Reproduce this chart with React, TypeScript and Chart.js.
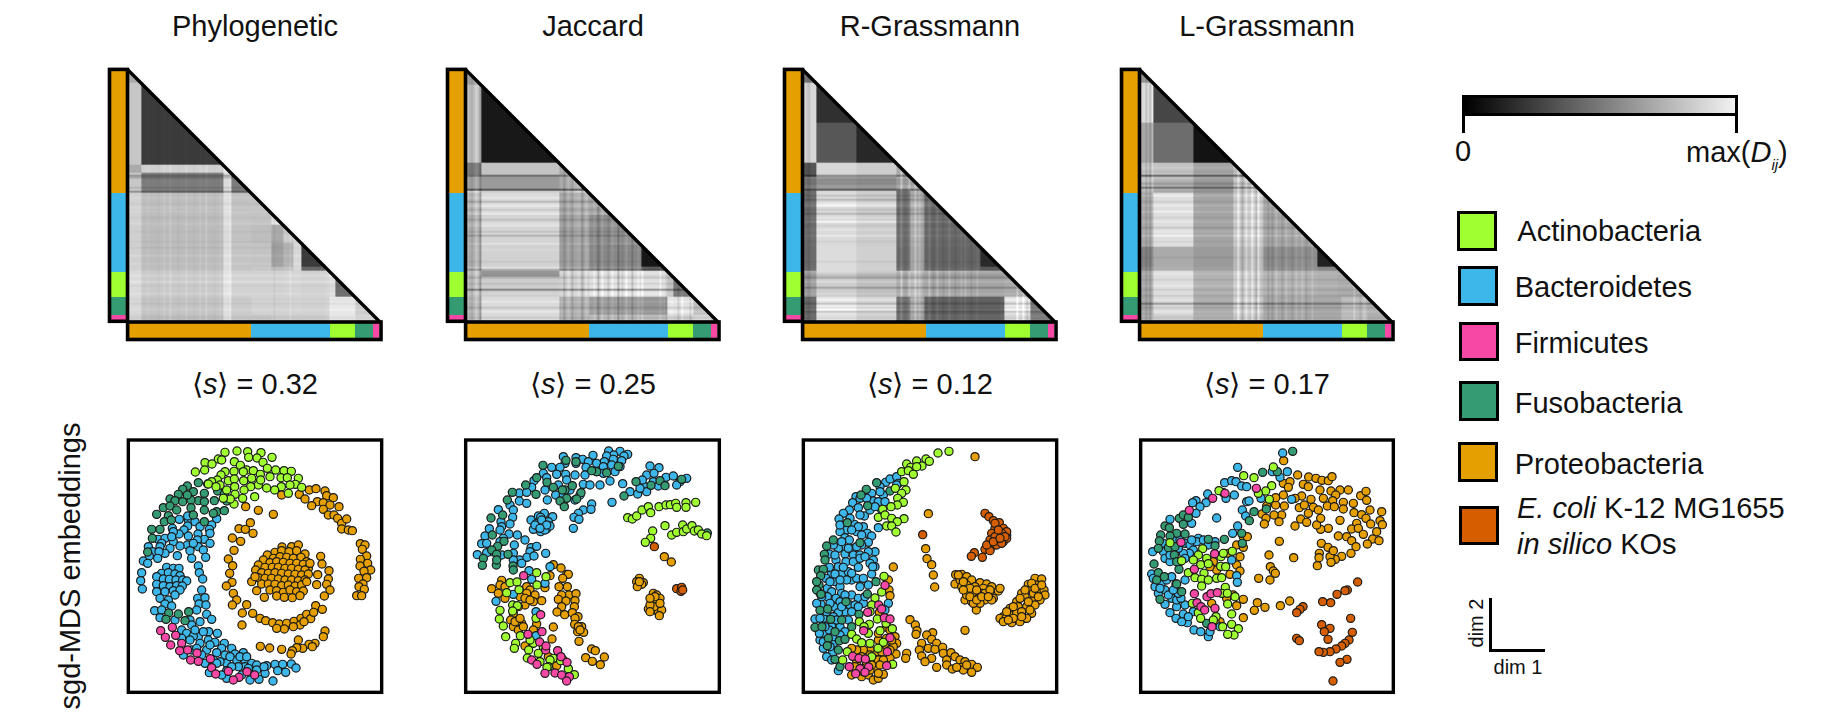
import React, { useEffect, useRef } from "react";
import { Chart, registerables } from "chart.js";

Chart.register(...registerables);

const TITLES = ["Phylogenetic", "Jaccard", "R-Grassmann", "L-Grassmann"];
const MEAN_S = ["0.32", "0.25", "0.12", "0.17"];
const LEGEND = ["Actinobacteria", "Bacteroidetes", "Firmicutes", "Fusobacteria", "Proteobacteria"];
const ORANGE = "#E69F00", BLUE = "#3DB7E9", GREEN = "#A0FF30", TEAL = "#359B73", PINK = "#F748A5", RED = "#D55E00";

const PHYLUM_EDGES = [0, 122, 201, 226, 244, 250];
const PHYLUM_COLORS = [ORANGE, BLUE, GREEN, TEAL, PINK];

// ---------- distance matrices: band edges, grey level per band pair, stripes [position, offset]
const H1_EDGES = [0, 12, 94, 103, 122, 142, 154, 164, 172, 197, 201, 207, 226, 244, 250];
const H1_BLOCKS = [
  [170],
  [198, 60],
  [170, 208, 235],
  [200, 125, 220, 125],
  [210, 190, 222, 194, 195],
  [210, 188, 222, 196, 195, 225],
  [208, 188, 220, 194, 190, 170, 200],
  [208, 188, 220, 194, 190, 170, 205, 215],
  [208, 188, 222, 196, 195, 160, 178, 215, 60],
  [210, 190, 222, 196, 200, 190, 195, 215, 105, 190],
  [218, 202, 228, 210, 210, 210, 212, 213, 210, 213, 235],
  [218, 202, 228, 210, 210, 210, 212, 213, 210, 213, 220, 110],
  [216, 196, 222, 203, 210, 210, 210, 212, 210, 213, 232, 232, 205],
  [210, 190, 220, 198, 198, 203, 203, 203, 203, 208, 228, 228, 215, 205],
];
const H1_ROWS = [[104, -50], [106, -30], [116, -20], [120, -55], [126, 5], [132, -6], [136, 6], [140, 6], [146, -5], [152, 6], [160, -5], [170, -6], [176, -6], [185, 8], [192, 6], [204, 8], [210, 10], [214, -6], [222, 6], [228, -4], [232, -8], [238, 6], [246, -6]];
const H1_COLS = [[18, 4], [28, -4], [34, 6], [40, 10], [48, -5], [56, 8], [64, -4], [70, 6], [77, 10], [84, -4], [90, 5], [100, 5], [145, -8], [160, 8]];

const H2_EDGES = [0, 14, 93, 105, 120, 123, 145, 175, 196, 201, 207, 226, 244, 250];
const H2_BLOCKS = [
  [165],
  [195, 26],
  [125, 195, 170],
  [165, 155, 170, 180],
  [215, 205, 190, 210, 200],
  [190, 218, 165, 175, 175, 165],
  [180, 212, 155, 165, 165, 140, 145],
  [180, 210, 155, 160, 165, 135, 135, 24],
  [185, 212, 160, 165, 165, 140, 140, 90, 95],
  [200, 150, 215, 215, 215, 225, 228, 225, 225, 200],
  [195, 205, 210, 212, 212, 225, 228, 225, 225, 195, 120],
  [185, 218, 175, 175, 180, 155, 155, 150, 155, 230, 225, 190],
  [190, 218, 180, 180, 185, 190, 190, 190, 190, 215, 210, 215, 195],
];
const H2_ROWS = [[104, -60], [118, -90], [126, 10], [130, -30], [135, 15], [138, -15], [142, 15], [148, -20], [152, 10], [155, 15], [160, -15], [165, -30], [172, 12], [178, 6], [190, -10], [196, 12], [199, -35], [204, -10], [207, -25], [212, -15], [218, -70], [222, 8], [230, 10], [236, -20], [240, 12], [246, -15]];
const H2_COLS = [[3, -15], [5, -20], [9, 15], [13, -40], [96, -25], [100, 15], [105, -25], [110, 10], [115, -30], [118, 15], [126, 15], [130, -35], [135, 20], [140, -20], [145, 15], [150, -40], [154, -15], [158, 20], [165, -30], [170, 15], [175, 20], [192, 15], [198, -15], [210, -20], [214, 15], [222, -20]];

const H3_EDGES = [0, 13, 53, 93, 107, 120, 176, 196, 201, 226, 244, 250];
const H3_BLOCKS = [
  [120],
  [215, 50],
  [215, 88, 42],
  [85, 215, 205, 170],
  [125, 155, 150, 170, 170],
  [110, 218, 205, 110, 170, 105],
  [108, 220, 208, 105, 165, 100, 44],
  [110, 220, 208, 110, 165, 105, 90, 100],
  [160, 205, 190, 170, 185, 165, 165, 165, 170],
  [105, 228, 212, 110, 168, 95, 95, 100, 225, 120],
  [110, 225, 210, 115, 170, 105, 105, 110, 215, 130, 130],
];
const H3_ROWS = [[104, -70], [108, -20], [110, -15], [113, -20], [118, -80], [124, -20], [128, -30], [132, 15], [135, 25], [138, -15], [142, -30], [146, 10], [150, 25], [154, -10], [158, 8], [165, 15], [170, -8], [190, -10], [201, 15], [204, -15], [207, -35], [211, 15], [216, -40], [222, 10], [228, 12], [232, -30], [235, 10], [238, 20], [241, -25], [246, -10]];
const H3_COLS = [[3, -15], [5, -20], [96, 40], [100, -10], [104, 30], [111, 30], [114, 15], [118, -15], [125, 30], [129, -15], [133, 25], [138, -15], [145, 25], [150, -15], [156, 15], [160, 20], [166, -15], [172, 15], [213, 30], [218, 25], [222, -20]];

const H4_EDGES = [0, 13, 53, 93, 108, 122, 176, 196, 201, 226, 244, 250];
const H4_BLOCKS = [
  [150],
  [218, 72],
  [168, 110, 20],
  [195, 195, 165, 190],
  [190, 175, 150, 195, 195],
  [170, 222, 165, 200, 205, 165],
  [130, 170, 155, 185, 190, 140, 34],
  [140, 175, 160, 185, 190, 145, 135, 150],
  [170, 222, 178, 205, 200, 178, 175, 170, 170],
  [165, 218, 172, 205, 200, 165, 165, 165, 185, 175],
  [175, 205, 178, 200, 195, 170, 170, 170, 190, 175, 170],
];
const H4_ROWS = [[96, 8], [100, -8], [104, -90], [108, 10], [112, -25], [116, -70], [120, -10], [125, 15], [130, -15], [134, 12], [140, 15], [146, -12], [150, 10], [156, -20], [160, 8], [165, 20], [170, -8], [186, -10], [203, 8], [208, -12], [214, 10], [218, -15], [224, -15], [228, 8], [232, -60], [236, -15], [240, 10], [246, -10]];
const H4_COLS = [[4, -20], [8, -25], [11, 15], [97, 35], [101, -25], [105, 25], [110, 30], [114, -20], [117, 30], [120, -10], [126, -20], [130, -20], [134, 18], [140, -18], [145, 15], [150, -15], [155, 15], [160, 15], [165, -15], [170, 15], [212, 20], [218, -15], [222, 15]];

const HEAT = [
  { edges: H1_EDGES, blocks: H1_BLOCKS, rows: H1_ROWS, cols: H1_COLS, left: 129 },
  { edges: H2_EDGES, blocks: H2_BLOCKS, rows: H2_ROWS, cols: H2_COLS, left: 467 },
  { edges: H3_EDGES, blocks: H3_BLOCKS, rows: H3_ROWS, cols: H3_COLS, left: 804 },
  { edges: H4_EDGES, blocks: H4_BLOCKS, rows: H4_ROWS, cols: H4_COLS, left: 1141 },
];

// ---------- embeddings: flat x,y lists
const S1_GREEN = [345,67,381,63,413,65,453,68,416,82,441,84,486,82,325,87,285,98,306,102,335,90,373,95,391,106,459,97,256,126,284,120,345,125,372,124,410,120,430,122,472,115,497,120,522,122,544,124,333,135,322,150,305,155,295,162,355,152,373,147,401,152,425,145,451,133,480,140,513,143,532,143,565,145,556,163,575,172,540,165,514,170,494,180,470,174,445,165,422,170,374,170,350,180,375,193,402,180,434,200,398,205,372,222,361,207,535,190,330,165,340,205,318,170,452,150,400,125];
const S1_TEAL = [232,168,218,178,205,193,265,158,293,162,323,183,250,185,283,190,343,192,180,207,195,212,218,215,265,212,313,212,350,213,283,215,243,210,160,233,180,228,200,240,243,233,283,240,320,245,343,242,140,253,175,257,250,255,310,250,163,275,184,270,283,275,125,298,150,298,127,325,113,366,232,195,176,549,205,552,236,545,168,568,225,572];
const S1_BLUE = [208,268,235,270,233,258,255,275,320,266,270,290,233,288,305,285,187,295,298,298,222,300,207,312,190,305,264,312,235,318,300,310,283,328,262,330,145,328,165,325,190,335,232,345,265,350,300,340,155,340,180,355,210,348,150,350,115,350,128,365,165,370,240,362,280,360,147,365,143,385,202,377,245,385,287,382,118,378,100,393,113,400,265,408,95,428,268,428,278,447,92,452,97,477,170,412,190,415,207,415,155,430,175,428,195,432,210,437,140,440,160,447,178,448,198,450,218,450,230,453,140,463,160,467,180,470,200,467,217,468,140,485,165,485,190,482,210,480,150,505,175,510,195,495,165,522,185,528,275,480,263,505,285,503,267,522,288,525,134,542,155,540,260,540,150,563,290,553,305,568,195,570,240,570,270,575,215,600,245,585,296,605,230,610,265,620,322,610,250,618,215,625,240,630,270,640,295,630,315,637,343,640,335,655,365,655,290,660,320,668,375,672,400,668,345,675,220,675,275,675,245,660,305,710,380,690,405,690,350,700,330,695,425,700,440,705,470,707,495,703,518,703,544,702,558,714,503,722,527,727,465,730,440,720,405,710,385,710,365,710,350,722,395,735,420,750,447,748,489,753,350,745,298,728,462,710,335,735,285,700,185,320,250,340,310,690,300,645,260,655,255,600,280,605,360,680,390,680,415,715,410,680,320,700];
const S1_PINK = [152,602,187,592,197,616,166,622,182,645,215,640,209,662,233,660,261,669,242,690,265,694,301,686,305,713,317,732,355,724,387,742,370,750,411,725,434,735];
const S1_ORANGE = [515,195,568,193,598,180,618,176,645,183,650,197,670,203,585,207,622,215,640,218,605,227,660,225,687,230,640,238,655,255,672,255,683,265,695,280,710,267,695,297,715,300,727,302,407,230,445,241,490,253,751,341,765,345,757,358,770,378,751,388,773,400,750,408,782,420,762,424,746,445,770,443,759,462,747,470,763,478,740,497,755,497,421,278,387,296,406,298,429,310,367,324,392,334,372,361,355,387,368,407,359,430,366,457,349,468,370,490,380,510,367,525,410,524,428,550,397,549,396,585,450,565,467,572,488,578,508,582,530,580,523,597,500,595,552,574,573,565,590,553,602,566,617,527,637,538,611,547,570,585,550,590,582,575,645,603,640,620,565,630,615,640,597,643,607,650,578,655,560,653,547,662,543,672,515,658,479,654,451,649,632,379,636,402,657,422,623,434,655,447,650,463,620,464,660,480,643,498,516,351,545,350,565,345,495,367,515,362,537,365,560,362,585,372,472,375,490,385,510,380,530,382,550,385,573,382,590,395,460,390,480,398,500,395,520,397,540,400,560,400,580,403,595,415,445,405,465,412,487,412,505,412,525,415,545,415,565,418,585,420,437,420,455,428,475,430,495,428,515,430,535,432,555,433,575,435,595,432,425,455,445,443,465,445,485,445,505,447,525,450,545,450,565,452,585,450,440,482,455,462,475,462,495,463,515,467,535,465,555,468,575,465,463,502,480,480,500,482,520,487,540,480,560,485,580,483,500,498,523,502,547,503,570,497,435,440,600,400,590,455];
const S1_RED: number[] = [];

const S2_BLUE = [340,80,378,83,429,76,476,63,510,64,533,73,491,75,522,78,470,78,398,88,378,100,415,95,440,100,463,95,490,88,515,92,345,100,305,112,330,112,408,112,460,110,485,105,280,130,320,133,347,133,375,135,405,135,440,125,460,130,495,125,510,110,252,152,290,143,350,150,400,163,420,165,450,165,480,153,245,172,325,165,285,180,317,195,360,180,208,189,230,187,292,210,340,195,390,195,425,222,180,225,208,213,230,220,375,210,145,239,190,240,400,240,423,238,385,250,188,262,153,275,372,262,387,268,155,290,180,282,118,296,150,300,370,295,105,318,177,312,202,315,160,325,95,341,110,340,150,335,225,330,193,345,243,353,260,349,125,365,82,374,190,370,110,368,240,365,287,370,155,375,209,390,231,382,252,378,190,390,215,400,300,410,237,422,245,448,285,460,190,493,138,514,258,545,258,617,518,161,486,217,283,250,265,258,308,260,243,270,272,262,295,275,260,280,280,282,250,298,272,305,290,297,300,288,265,290,285,300,600,108,627,113,590,135,612,130,585,170,648,142,670,138,710,145,690,155,680,165,610,155,577,150,540,185,563,192,590,185,625,168,570,175,275,270,255,285,290,285,270,295];
const S2_TEAL = [279,106,348,91,378,95,440,125,425,122,470,128,505,109,260,143,227,165,291,157,367,167,345,180,337,180,187,187,258,193,310,172,172,210,393,188,350,205,330,213,380,207,343,230,123,264,158,255,127,315,162,334,143,349,125,360,140,373,174,373,100,385,97,406,139,405,189,408,190,420,558,155,603,166,630,152,645,167,695,148,522,198,772,309,140,390];
const S2_GREEN = [533,263,547,267,560,258,576,240,595,230,602,248,627,230,648,225,661,224,677,220,680,232,708,218,708,232,737,217,645,287,608,303,602,325,586,337,665,315,680,307,698,285,700,305,710,297,726,287,733,303,745,300,755,312,770,317,260,428,288,440,180,458,201,456,261,465,170,488,207,479,188,525,202,527,150,541,188,543,148,567,160,588,258,565,167,620,197,640,193,655,211,617,250,640,236,660,265,670,232,684,270,695,310,685,332,692,300,690,295,710,291,712,355,716,373,734,280,650,240,630];
const S2_PINK = [221,437,272,554,234,613,276,605,269,636,287,660,288,648,323,662,333,680,245,690,261,703,351,697,285,730,315,729,335,735,358,740,350,753];
const S2_ORANGE = [310,404,333,414,350,433,355,433,338,445,352,470,327,470,357,495,335,495,378,491,325,508,348,513,375,512,373,530,335,530,321,546,344,554,367,548,384,560,375,565,374,583,395,590,383,605,401,607,387,634,310,591,306,627,155,451,150,465,125,476,165,470,145,490,165,505,230,470,240,480,255,495,230,490,210,500,250,515,225,525,275,512,205,530,190,550,182,570,205,572,215,580,190,590,205,600,220,590,260,582,250,600,225,648,285,473,300,437,295,680,320,707,340,690,425,657,436,662,407,683,427,694,463,681,451,704,568,445,580,458,560,455,575,463,562,470,610,490,620,495,613,505,630,505,605,515,620,520,595,537,610,540,625,545,635,540,612,530,600,525,628,557,615,500,643,380,664,396,225,505,240,510,195,575,210,565,385,590,390,600,600,505,600,545,630,520,568,455];
const S2_RED = [613,350,680,476,695,472,693,484,698,480];

const S3_GREEN = [444,69,477,64,408,87,418,94,380,93,396,108,350,102,362,112,335,125,355,122,370,133,380,110,342,155,348,180,316,175,335,190,323,205,340,217,322,225,303,230,278,238,265,262,285,255,305,265,342,266,322,275,290,288,305,288,318,306,282,439,275,486,255,504,245,525,240,545,208,575,238,583,262,567,288,580,307,596,270,602,222,590,185,613,200,627,215,638,240,640,280,637,172,665,245,680,158,690,308,703,264,655,235,610];
const S3_PINK = [285,466,266,525,233,547,275,537,283,563,300,567,221,602,300,623,292,665,188,679,207,685,226,687,178,710,210,716,236,711,197,731,225,727,290,707];
const S3_TEAL = [260,158,300,183,229,178,213,195,233,227,172,278,210,338,130,330,110,348,103,373,85,420,100,418,92,437,87,465,80,480,93,493,258,455,232,492,168,515,90,541,113,537,207,553,122,568,155,570,185,590,75,592,96,590,135,605,115,625,148,632,165,628,112,647,145,660,135,688,150,710,80,455,105,390];
const S3_BLUE = [287,157,300,147,320,140,325,160,320,165,270,170,245,190,280,195,198,200,188,218,210,205,250,213,265,215,205,233,275,240,178,240,160,250,147,267,223,258,193,283,170,300,220,290,150,305,200,305,265,293,232,310,165,323,245,318,178,330,215,315,235,337,160,353,190,355,145,355,118,372,255,365,235,365,165,372,190,375,210,375,138,390,168,395,190,395,210,385,250,390,255,410,145,410,205,412,125,430,155,432,175,425,245,432,135,455,185,450,200,445,235,465,112,475,150,470,210,470,125,485,155,490,185,495,112,500,138,505,165,495,205,505,220,520,93,523,135,532,180,525,195,525,75,567,100,565,165,545,185,545,145,548,150,590,125,590,100,610,118,600,165,605,130,640,90,630,100,655,128,668,110,680,125,690,145,722,295,520,285,540,175,570,135,375,118,412,135,432,108,445,160,412,185,430,220,445,170,450,120,520,150,515,110,545,130,560,155,530,90,565,105,590,130,620,150,615,100,635,120,650,88,610,215,345,225,380,240,400,248,410,200,350,175,355,130,345,155,335,205,290,185,300,210,255,240,240,255,230,230,205,285,215,270,185,150,285,180,265,120,455,150,450,90,490,225,500,205,530,80,520,95,500,140,570];
const S3_ORANGE = [295,450,297,480,300,497,268,548,290,592,300,600,315,620,320,640,310,650,318,672,300,685,285,650,265,630,262,665,240,660,220,660,200,660,185,655,250,695,265,690,280,690,230,700,200,695,185,735,215,740,235,735,250,750,265,745,280,733,260,715,240,720,555,80,415,251,407,356,411,386,425,404,430,435,434,471,310,411,525,601,559,540,360,569,376,585,381,602,378,613,350,670,347,685,428,608,410,615,395,640,425,628,440,640,388,660,415,655,435,658,458,652,395,678,425,685,405,695,440,712,460,670,483,668,470,690,495,680,470,705,487,717,510,690,525,695,515,712,545,703,562,712,545,727,520,720,530,705,500,712,497,434,515,433,530,440,495,462,510,450,545,450,570,458,590,462,515,470,530,465,555,470,580,475,605,470,625,483,630,475,530,490,555,490,575,490,600,490,610,505,525,510,545,515,565,505,585,510,605,510,530,495,570,520,550,520,735,445,755,447,715,463,740,465,695,490,720,480,745,485,762,480,765,495,680,515,705,500,730,510,750,510,660,535,685,530,710,530,735,525,640,560,660,555,680,550,705,565,725,550,630,565,648,565,665,578,690,575,710,565,640,575,215,680,240,675,265,610,290,625,305,630,275,665,300,660,215,715,195,710,245,705,270,705,265,730,220,725,520,455,540,475,560,480,585,490,600,480,540,500,560,510,575,500,595,500,520,480,505,435,725,460,705,480,730,490,690,505,715,515,745,500,670,530,695,545,720,540,650,545,670,565,695,560,735,475,755,465,655,570];
const S3_RED = [585,250,597,260,610,272,628,278,615,295,640,295,605,310,630,313,650,315,600,330,620,330,640,335,650,325,605,350,620,345,635,340,585,358,600,362,553,368,577,382,544,379,398,314,650,305,615,280,635,310,615,320,645,320,625,300,590,345,610,335,630,325];

const S4_TEAL = [488,64,398,127,442,125,372,245,409,237,358,272,148,265,160,255,175,262,105,288,118,293,160,283,140,310,120,318,165,312,92,315,88,333,85,355,115,353,135,350,133,375,147,418,72,402,85,428,103,440,80,450,140,462,155,485,90,508,235,328,283,328,255,347,337,340,335,310,230,580,140,395];
const S4_BLUE = [458,69,323,112,472,125,427,125,450,142,284,158,305,152,318,155,335,168,350,170,280,188,233,192,198,212,188,218,228,218,288,205,313,195,210,230,350,215,357,213,393,205,337,240,347,258,485,208,198,250,260,264,120,268,185,280,323,288,308,310,68,365,100,365,105,385,120,395,165,340,180,345,190,360,205,325,178,370,200,335,255,335,220,330,235,345,160,370,150,395,165,385,65,432,75,470,93,462,110,450,125,440,165,450,138,462,70,445,105,480,85,490,125,505,105,523,140,530,120,548,140,510,165,525,153,505,160,552,138,565,172,578,155,575,190,545,192,600,212,605,235,620,240,605,305,390,320,437,322,457,270,590,175,560,130,330,100,340,150,330,185,330,145,355,120,375,90,475,115,495,145,490,130,480];
const S4_GREEN = [430,111,341,137,372,143,425,167,407,183,385,190,267,182,418,208,218,356,205,375,190,390,230,385,273,380,307,364,280,370,212,404,235,401,272,409,287,410,175,428,195,443,222,430,260,445,275,443,215,448,235,450,215,468,286,472,275,490,292,490,315,500,293,522,187,520,205,548,212,565,258,560,305,552,305,583,278,590,325,596,312,615,293,613,120,338,155,392,250,570];
const S4_PINK = [379,175,248,205,285,190,178,241,153,337,254,371,193,418,193,491,231,500,243,491,262,488,201,518,213,530,224,540,255,535,246,590];
const S4_ORANGE = [340,320,352,320,320,345,340,352,330,380,295,370,250,395,260,420,300,433,320,405,330,423,240,410,245,520,320,527,340,508,310,495,290,505,340,563,270,575,255,575,461,92,503,135,536,141,558,145,576,151,595,152,606,140,520,163,535,170,570,180,603,183,630,180,655,180,617,195,692,197,708,184,710,211,580,205,608,212,640,217,670,220,592,228,613,230,640,237,720,240,755,245,672,248,695,254,708,265,750,272,757,284,680,280,722,282,630,271,665,297,685,295,740,305,700,313,650,320,625,318,665,332,728,327,747,332,712,342,678,350,663,370,635,379,616,388,600,380,603,397,574,340,594,352,610,362,568,370,567,383,562,407,595,295,572,298,560,285,572,265,543,208,515,198,495,205,508,233,523,225,550,232,565,240,535,250,512,267,530,277,495,288,455,255,432,255,463,228,437,225,410,228,396,252,408,265,403,282,447,275,460,195,437,203,460,160,480,155,475,172,448,334,417,375,491,383,421,410,430,423,436,430,386,445,420,450,382,518,405,532,373,541,451,527,479,513];
const S4_RED = [683,456,652,480,645,482,621,493,578,515,602,518,519,530,510,538,500,548,662,565,575,584,600,595,583,605,667,607,594,628,500,625,508,632,657,630,645,640,635,648,618,657,600,665,580,667,567,665,651,688,630,697,609,753];

const SCATTER = [
  { left: 110, frame: [55, 815, 30, 787], series: [[S1_PINK, PINK], [S1_GREEN, GREEN], [S1_TEAL, TEAL], [S1_BLUE, BLUE], [S1_ORANGE, ORANGE], [S1_RED, RED]] },
  { left: 450, frame: [47, 808, 30, 787], series: [[S2_PINK, PINK], [S2_GREEN, GREEN], [S2_TEAL, TEAL], [S2_BLUE, BLUE], [S2_ORANGE, ORANGE], [S2_RED, RED]] },
  { left: 790, frame: [40, 800, 30, 787], series: [[S3_PINK, PINK], [S3_GREEN, GREEN], [S3_TEAL, TEAL], [S3_BLUE, BLUE], [S3_ORANGE, ORANGE], [S3_RED, RED]] },
  { left: 1130, frame: [32, 790, 30, 787], series: [[S4_PINK, PINK], [S4_GREEN, GREEN], [S4_TEAL, TEAL], [S4_BLUE, BLUE], [S4_ORANGE, ORANGE], [S4_RED, RED]] },
] as any[];

const CELL = 2;
const CELLS = 125;
const ROW_LABELS = Array.from({ length: CELLS }, (_, i) => String(i));

function greyTable(h: any): number[][] {
  const band = (p: number) => {
    for (let i = 0; i < h.edges.length - 1; i++) if (p >= h.edges[i] && p < h.edges[i + 1]) return i;
    return h.edges.length - 2;
  };
  const offset = (list: number[][], idx: number) => {
    let d = 0;
    for (const [p, v] of list) if (Math.floor(p / CELL) === idx) d += v;
    return d;
  };
  const out: number[][] = [];
  for (let r = 0; r < CELLS; r++) {
    const row: number[] = [];
    const rb = band(r * CELL + 1);
    for (let c = 0; c <= r; c++) {
      const cb = band(c * CELL + 1);
      const g = h.blocks[rb][Math.min(cb, rb)];
      const scaled = g + ((offset(h.rows, r) + offset(h.cols, c)) * g) / 200;
      row.push(Math.max(0, Math.min(255, Math.round(scaled))));
    }
    out.push(row);
  }
  return out;
}

function Heat({ h }: { h: any }) {
  const ref = useRef<HTMLCanvasElement>(null);
  useEffect(() => {
    const greys = greyTable(h);
    const datasets = Array.from({ length: CELLS }, (_, c) => ({
      data: ROW_LABELS.map((_, r) => (r >= c ? CELL : 0)),
      backgroundColor: ROW_LABELS.map((_, r) => (r >= c ? `rgb(${greys[r][c]},${greys[r][c]},${greys[r][c]})` : "#fff")),
      borderWidth: 0,
      barPercentage: 1,
      categoryPercentage: 1,
    }));
    const frame = {
      id: "matrixFrame",
      afterDatasetsDraw(chart: any) {
        const { ctx } = chart;
        const xs = chart.scales.x;
        const X = (p: number) => xs.getPixelForValue(p);
        const Y = (p: number) => chart.chartArea.top + (xs.getPixelForValue(p) - xs.getPixelForValue(0));
        ctx.save();
        PHYLUM_COLORS.forEach((col, i) => {
          const a = PHYLUM_EDGES[i], b = PHYLUM_EDGES[i + 1];
          ctx.fillStyle = col;
          ctx.fillRect(X(-19), Y(a), X(-1) - X(-19), Y(b) - Y(a));
          ctx.fillRect(X(a), Y(252), X(b) - X(a), Y(268) - Y(252));
        });
        ctx.strokeStyle = "#000";
        ctx.lineWidth = 3.6;
        ctx.strokeRect(X(-19.5), Y(-1.6), X(-1.5) - X(-19.5), Y(250.3) - Y(-1.6));
        ctx.strokeRect(X(-1.4), Y(251), X(252) - X(-1.4), Y(268.5) - Y(251));
        ctx.lineWidth = 3.2;
        ctx.beginPath();
        ctx.moveTo(X(-1), Y(-1));
        ctx.lineTo(X(251), Y(251));
        ctx.stroke();
        ctx.restore();
      },
    };
    const chart = new Chart(ref.current as HTMLCanvasElement, {
      type: "bar",
      data: { labels: ROW_LABELS, datasets },
      plugins: [frame],
      options: {
        indexAxis: "y",
        animation: false,
        responsive: false,
        events: [],
        layout: { autoPadding: false, padding: { left: 24, right: 6, top: 6, bottom: 24 } },
        scales: {
          x: { type: "linear", min: 0, max: 250, stacked: true, display: false },
          y: { type: "category", stacked: true, display: false },
        },
        plugins: { legend: { display: false }, tooltip: { enabled: false }, colors: { enabled: false } },
      },
    } as any);
    return () => chart.destroy();
  }, [h]);
  return <canvas ref={ref} width={280} height={280} style={{ position: "absolute", left: h.left - 24, top: 65, width: 280, height: 280, filter: "blur(0.4px)" }} />;
}

function toPoints(flat: number[]) {
  const pts = [];
  for (let i = 0; i + 1 < flat.length; i += 2) pts.push({ x: flat[i], y: flat[i + 1] });
  return pts;
}

function Scatter({ s }: { s: any }) {
  const ref = useRef<HTMLCanvasElement>(null);
  useEffect(() => {
    const frame = {
      id: "panelFrame",
      afterDatasetsDraw(chart: any) {
        const { ctx } = chart;
        const { x, y } = chart.scales;
        const [l, r, t, b] = s.frame;
        ctx.save();
        ctx.strokeStyle = "#000";
        ctx.lineWidth = 3.4;
        ctx.strokeRect(x.getPixelForValue(l), y.getPixelForValue(t), x.getPixelForValue(r) - x.getPixelForValue(l), y.getPixelForValue(b) - y.getPixelForValue(t));
        ctx.restore();
      },
    };
    const chart = new Chart(ref.current as HTMLCanvasElement, {
      type: "scatter",
      data: {
        datasets: s.series.map(([flat, col]: any, i: number) => ({
          data: toPoints(flat),
          order: i,
          showLine: false,
          pointRadius: 4.1,
          pointBorderWidth: 1.2,
          pointBackgroundColor: col,
          pointBorderColor: "#1a1a1a",
        })),
      },
      plugins: [frame],
      options: {
        animation: false,
        responsive: false,
        events: [],
        layout: { autoPadding: false, padding: 0 },
        scales: {
          x: { type: "linear", min: 0, max: 870, display: false },
          y: { type: "linear", min: 0, max: 840, reverse: true, display: false },
        },
        plugins: { legend: { display: false }, tooltip: { enabled: false }, colors: { enabled: false } },
      },
    } as any);
    return () => chart.destroy();
  }, [s]);
  return <canvas ref={ref} width={290} height={280} style={{ position: "absolute", left: s.left, top: 430, width: 290, height: 280, filter: "blur(0.3px)" }} />;
}

const FONT = '"Liberation Sans", Arial, sans-serif';

function T({ x, y, size = 29, anchor = "c", rot = 0, children }: any) {
  const tx = anchor === "c" ? "-50%" : "0";
  return (
    <div style={{ position: "absolute", left: x, top: y, fontFamily: FONT, fontSize: size, lineHeight: 1, color: "#111", whiteSpace: "nowrap", transform: `translate(${tx},-50%) rotate(${rot}deg)` }}>
      {children}
    </div>
  );
}

const SWATCHES = [
  [1457.3, 211, GREEN],
  [1458.3, 266.2, BLUE],
  [1459, 321.5, PINK],
  [1459.3, 381.4, TEAL],
  [1458, 442.4, ORANGE],
  [1459, 505.8, RED],
] as any[];
const LABEL_POS = [[1517.3, 231], [1514.7, 287], [1514.7, 343], [1514.7, 402.5], [1514.7, 463.5]];
const TITLE_X = [255, 593, 930, 1267];

export default function App() {
  return (
    <div style={{ position: "absolute", left: 0, top: 0, width: 1841, height: 721, overflow: "hidden", background: "#fff" }}>
      {TITLES.map((t, i) => (
        <T key={t} x={TITLE_X[i]} y={26}>{t}</T>
      ))}
      {MEAN_S.map((v, i) => (
        <T key={v} x={TITLE_X[i]} y={384}>⟨<i>s</i>⟩ = {v}</T>
      ))}
      {HEAT.map((h, i) => (
        <Heat key={i} h={h} />
      ))}
      {SCATTER.map((s, i) => (
        <Scatter key={i} s={s} />
      ))}
      <T x={70} y={566} rot={-90}>sgd-MDS embeddings</T>

      <div style={{ position: "absolute", left: 1462, top: 95, width: 276, height: 21, boxSizing: "border-box", borderLeft: "3px solid #000", borderRight: "3px solid #000", borderTop: "3px solid #000", borderBottom: "3.5px solid #000", background: "linear-gradient(to right,#000,#f2f2f2)" }} />
      <div style={{ position: "absolute", left: 1462, top: 114, width: 3, height: 19, background: "#000" }} />
      <div style={{ position: "absolute", left: 1735, top: 114, width: 3, height: 19, background: "#000" }} />
      <T x={1463} y={151}>0</T>
      <T x={1686} y={152} anchor="l">max(<i>D</i><sub style={{ fontSize: 15, fontStyle: "italic", verticalAlign: -8, lineHeight: 0 }}>ij</sub>)</T>

      {SWATCHES.map(([x, y, c]) => (
        <div key={c} style={{ position: "absolute", left: x, top: y, width: 40, height: 39.5, boxSizing: "border-box", border: "3.4px solid #000", background: c }} />
      ))}
      {LEGEND.map((t, i) => (
        <T key={t} x={LABEL_POS[i][0]} y={LABEL_POS[i][1]} anchor="l">{t}</T>
      ))}
      <T x={1517} y={508} anchor="l"><i>E. coli</i> K-12 MG1655</T>
      <T x={1517} y={544} anchor="l"><i>in silico</i> KOs</T>

      <div style={{ position: "absolute", left: 1489, top: 598, width: 3, height: 54, background: "#000" }} />
      <div style={{ position: "absolute", left: 1489, top: 649, width: 56, height: 3, background: "#000" }} />
      <T x={1476} y={623} size={20} rot={-90}>dim 2</T>
      <T x={1518} y={667} size={20}>dim 1</T>
    </div>
  );
}
